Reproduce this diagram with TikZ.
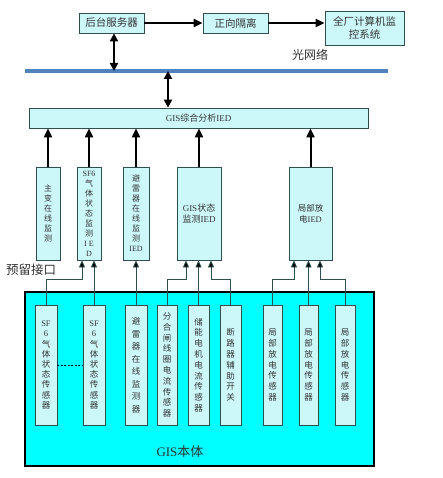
\documentclass[tikz,border=0pt]{standalone}
\usepackage{fontspec}
\setmainfont{Liberation Serif}
\newfontfamily\cjkf{Noto Sans CJK SC}
\newfontfamily\latf{Liberation Serif}
\newcommand\lat[1]{{\latf #1}}
\usetikzlibrary{arrows.meta}
\definecolor{boxfill}{HTML}{CCF8FA}
\definecolor{bdr}{HTML}{2F4F4F}
\definecolor{txt}{HTML}{333333}
\definecolor{netblue}{HTML}{4F81BD}
\definecolor{bodyfill}{HTML}{00FFFF}
\tikzset{
  box/.style={draw=bdr, fill=boxfill, line width=0.8pt, inner sep=0pt, align=center, text=txt},
  hbox/.style={box, font=\cjkf\fontsize{10.5}{13}\selectfont},
  vbox/.style={box, font=\cjkf\fontsize{8}{10}\selectfont},
  sbox/.style={box, font=\cjkf\fontsize{8.5}{10.8}\selectfont, minimum height=120pt},
  ibox/.style={vbox, minimum height=93pt},
  thick arrow/.style={line width=2pt, -{Triangle[length=9pt,width=8pt]}},
  dbl arrow/.style={line width=2pt, {Triangle[length=8pt,width=8pt]}-{Triangle[length=8pt,width=8pt]}},
  wire/.style={line width=0.8pt, draw=bdr, -{Triangle[length=7pt,width=6pt]}, arrows={-{Triangle[length=7pt,width=6pt,fill=black]}}},
  lbl/.style={font=\cjkf\fontsize{12}{14}\selectfont, text=txt, inner sep=0pt},
}
\begin{document}
\begin{tikzpicture}[x=1pt,y=-1pt]
\useasboundingbox (0,0) rectangle (442,478);
% top boxes
\node[hbox, minimum width=65pt, minimum height=20pt] (srv) at (111.5,23) {后台服务器};
\node[hbox, minimum width=65pt, minimum height=20pt] (iso) at (235.5,23) {正向隔离};
\node[hbox, minimum width=79pt, minimum height=34pt] (mon) at (364.5,28) {全厂计算机监\\控系统};
\draw[thick arrow] (srv) -- (iso);
\draw[thick arrow] (iso) -- (mon.west |- iso);
% network
\coordinate (netL) at (25,71);
\coordinate (netR) at (388,71);
\draw[netblue, line width=3.5pt] (netL) -- (netR);
\node[lbl] (netlbl) at (310,55) {光网络};
\coordinate (n1) at (114,71);
\coordinate (n2) at (168,71);
\draw[dbl arrow] (srv.south -| n1) -- (n1);
% GIS analysis
\node[box, font=\cjkf\fontsize{9}{11}\selectfont, minimum width=339pt, minimum height=20pt] (gisa) at (198.5,118) {\lat{GIS}综合分析\lat{IED}};
\draw[dbl arrow] (n2) -- (gisa.north -| n2);
% IEDs
\node[ibox, minimum width=24pt] (zb) at (48,213.5) {主\\变\\在\\线\\监\\测};
\node[ibox, minimum width=24pt] (sfi) at (89,213.5) {\lat{SF6}\\气\\体\\状\\态\\监\\测\\\lat{I E}\\\lat{D}};
\node[ibox, minimum width=26pt] (blq) at (136,213.5) {避\\雷\\器\\在\\线\\监\\测\\\lat{IED}};
\node[ibox, minimum width=44pt, font=\cjkf\fontsize{9}{11.5}\selectfont] (gsi) at (199,213.5) {\lat{GIS}状态\\监测\lat{IED}};
\node[ibox, minimum width=43pt, font=\cjkf\fontsize{8.5}{11.5}\selectfont] (jbi) at (310.5,213.5) {局部放\\电\lat{IED}};
\foreach \n in {zb,sfi,blq,gsi,jbi}{
  \draw[thick arrow] (\n.north) -- (gisa.south -| \n.north);
}
\node[lbl, font=\cjkf\fontsize{12.5}{14}\selectfont] (rsv) at (31,270) {预留接口};
% GIS body
\node[draw=black, fill=bodyfill, line width=2pt, minimum width=349pt, minimum height=174pt, inner sep=0pt] (body) at (199.5,379) {};
\node[lbl, font=\cjkf\fontsize{13}{15}\selectfont] (bodylbl) at (180,452) {\lat{GIS}本体};
% sensors
\node[sbox, minimum width=22pt, font=\cjkf\fontsize{8.5}{10.2}\selectfont] (s1) at (46,365) {\lat{SF}\\\lat{6}\\气\\体\\状\\态\\传\\感\\器};
\node[sbox, minimum width=22pt, font=\cjkf\fontsize{8.5}{10.2}\selectfont] (s2) at (94,365) {\lat{SF}\\\lat{6}\\气\\体\\状\\态\\传\\感\\器};
\node[sbox, minimum width=22pt, font=\cjkf\fontsize{8.5}{12.5}\selectfont] (s3) at (136,365) {避\\雷\\器\\在\\线\\监\\测\\器};
\node[sbox, minimum width=20pt] (s4) at (167,365) {分\\合\\闸\\线\\圈\\电\\流\\传\\感\\器};
\node[sbox, minimum width=21pt] (s5) at (198.5,365) {储\\能\\电\\机\\电\\流\\传\\感\\器};
\node[sbox, minimum width=21pt] (s6) at (230.5,365) {断\\路\\器\\辅\\助\\开\\关};
\node[sbox, minimum width=19pt] (s7) at (272.5,365) {局\\部\\放\\电\\传\\感\\器};
\node[sbox, minimum width=19pt] (s8) at (308.5,365) {局\\部\\放\\电\\传\\感\\器};
\node[sbox, minimum width=20pt] (s9) at (345,365) {局\\部\\放\\电\\传\\感\\器};
\draw[line width=1pt, dashed, dash pattern=on 2pt off 1.5pt] (s1.east) -- (s2.west);
% wires
\coordinate (w1) at (82,279);
\coordinate (w4) at (186,279);
\coordinate (w6) at (211,279);
\coordinate (w7) at (294,279);
\coordinate (w9) at (320,279);
\draw[wire] (s1.north) |- (w1) -- (sfi.south -| w1);
\draw[wire] (s2.north) -- (sfi.south -| s2.north);
\draw[wire] (s3.north) -- (blq.south -| s3.north);
\draw[wire] (s4.north) |- (w4) -- (gsi.south -| w4);
\draw[wire] (s5.north) -- (gsi.south -| s5.north);
\draw[wire] (s6.north) |- (w6) -- (gsi.south -| w6);
\draw[wire] (s7.north) |- (w7) -- (jbi.south -| w7);
\draw[wire] (s8.north) -- (jbi.south -| s8.north);
\draw[wire] (s9.north) |- (w9) -- (jbi.south -| w9);
\end{tikzpicture}
\end{document}
